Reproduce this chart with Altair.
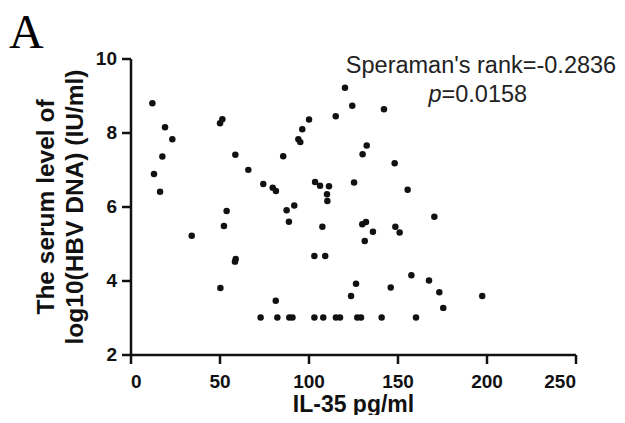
import altair as alt
import pandas as pd

# IL-35 (pg/ml) values
il35 = [12.3, 19.4, 23.5, 17.9, 13.2, 16.6, 50.3, 51.6, 58.9, 66.2,
        74.6, 79.9, 81.7, 85.8, 54.0, 52.5, 34.4, 59.1, 58.7, 50.5,
        81.6, 87.7, 89.0, 120.5, 124.6, 142.4, 115.3, 100.3, 96.5, 94.3,
        95.4, 132.7, 130.4, 148.4, 103.7, 106.5, 111.5, 125.6, 155.7, 110.4,
        110.6, 92.0, 107.8, 130.2, 132.3, 136.2, 131.6, 148.8, 151.2, 170.7,
        103.3, 109.4, 157.8, 167.7, 173.5, 175.7, 197.6, 126.7, 123.9, 146.2,
        73.1, 82.5, 89.2, 91.0, 103.3, 108.3, 115.4, 117.7, 127.4, 129.5,
        141.1, 160.4]
# log10(HBV DNA) (IU/ml) values
hbv = [8.79, 8.14, 7.82, 7.35, 6.88, 6.40, 8.25, 8.36, 7.40, 6.99,
       6.61, 6.51, 6.42, 7.36, 5.88, 5.47, 5.21, 4.58, 4.51, 3.80,
       3.45, 5.90, 5.59, 9.21, 8.72, 8.63, 8.44, 8.35, 8.09, 7.82,
       7.74, 7.65, 7.41, 7.17, 6.66, 6.56, 6.55, 6.65, 6.45, 6.33,
       6.15, 6.03, 5.45, 5.52, 5.58, 5.32, 5.07, 5.45, 5.30, 5.72,
       4.66, 4.66, 4.14, 4.00, 3.68, 3.26, 3.58, 3.91, 3.58, 3.81,
       3.0, 3.0, 3.0, 3.0, 3.0, 3.0, 3.0, 3.0, 3.0, 3.0,
       3.0, 3.0]

x_ticks = [0, 50, 100, 150, 200, 250]
y_ticks = [2, 4, 6, 8, 10]

panel_label = "A"
stat_line1 = "Speraman's rank=-0.2836"
stat_p = "p"
stat_p_rest = "=0.0158"

df = pd.DataFrame({"il35": il35, "hbv": hbv})
FONT = "Liberation Sans"

points = alt.Chart(df).mark_circle(size=42, color="#111111", opacity=1).encode(
    x=alt.X("il35:Q",
            scale=alt.Scale(domain=[0, 250], nice=False, zero=False),
            axis=alt.Axis(values=x_ticks, title="IL-35 pg/ml",
                          titleY=56.5, titleBaseline="alphabetic",
                          titleFontSize=23)),
    y=alt.Y("hbv:Q",
            scale=alt.Scale(domain=[2, 10], nice=False, zero=False),
            axis=alt.Axis(values=y_ticks,
                          title=["The serum level of", "log10(HBV DNA) (IU/ml)"],
                          titleX=-77, titleBaseline="alphabetic",
                          titleFontSize=24.5, titleLineHeight=28.5)),
)

one = pd.DataFrame({"k": [0]})

t_a = alt.Chart(one).mark_text(text=panel_label, font="Liberation Serif", fontSize=48,
                               align="left", baseline="alphabetic", color="#000000").encode(
    x=alt.value(-121.5), y=alt.value(-10.5))

t_1 = alt.Chart(one).mark_text(text=stat_line1, font=FONT, fontSize=23.5,
                               align="center", baseline="alphabetic", color="#222222").encode(
    x=alt.value(350.5), y=alt.value(14.5))

t_p = alt.Chart(one).mark_text(text=stat_p, font=FONT, fontSize=23.5, fontStyle="italic",
                               align="right", baseline="alphabetic", color="#222222").encode(
    x=alt.value(311), y=alt.value(43.5))

t_p2 = alt.Chart(one).mark_text(text=stat_p_rest, font=FONT, fontSize=23.5,
                                align="left", baseline="alphabetic", color="#222222").encode(
    x=alt.value(311), y=alt.value(43.5))

chart = alt.layer(points, t_a, t_1, t_p, t_p2).properties(
    width=445, height=296,
    autosize=alt.AutoSizeParams(type="none"),
    padding={"left": 122.5, "top": 50.5, "right": 41.5, "bottom": 60.5},
    background="white",
).configure_view(stroke=None).configure_axis(
    grid=False,
    domainColor="#111111", domainWidth=2.5,
    tickColor="#111111", tickWidth=2.5, tickSize=9,
    labelFont=FONT, labelFontSize=19, labelFontWeight="bold", labelColor="#111111",
    titleFont=FONT, titleFontWeight="bold", titleColor="#111111",
).configure_axisX(labelPadding=9).configure_axisY(labelPadding=5)

chart.save("out.html", embed_options={"renderer": "svg", "actions": False})
